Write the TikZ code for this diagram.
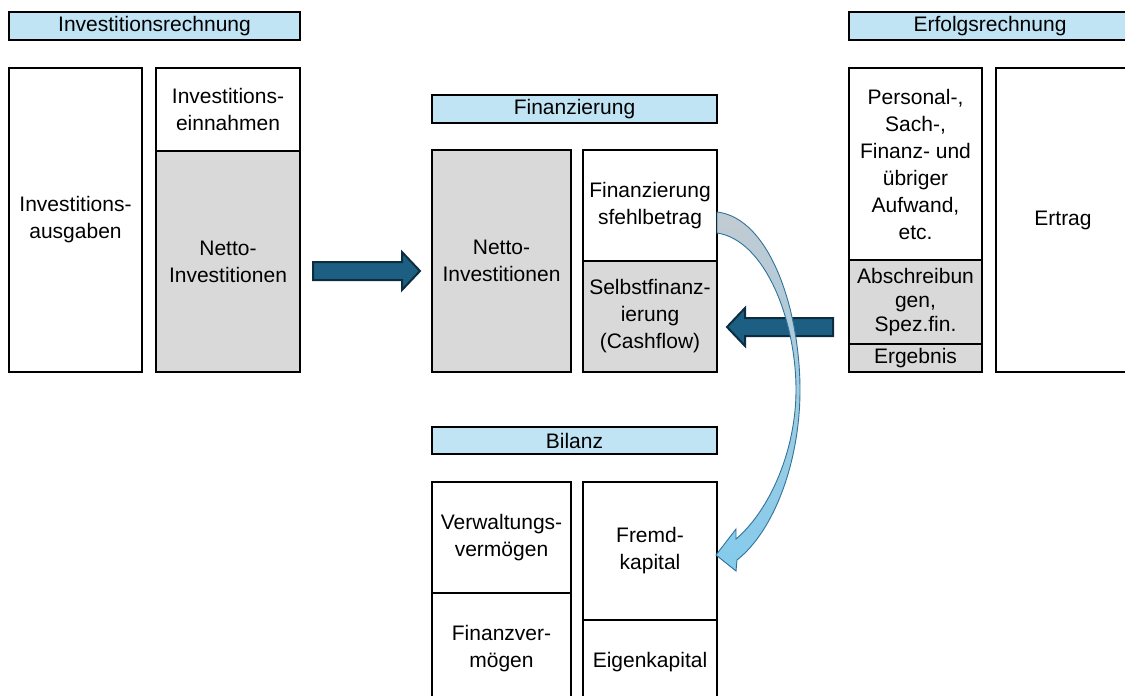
\documentclass[tikz,border=0pt]{standalone}
\usepackage{fontspec}
\setmainfont{Liberation Sans}
\usetikzlibrary{calc}
\definecolor{hdrblue}{HTML}{C1E4F5}
\definecolor{boxgray}{HTML}{D9D9D9}
\definecolor{arrfill}{HTML}{1D5F82}
\definecolor{arrdraw}{HTML}{0C2D40}
\definecolor{curtop}{HTML}{C2CBD2}
\definecolor{curmid}{HTML}{A6CFE3}
\definecolor{curbot}{HTML}{84CBEC}
\definecolor{curline}{HTML}{2F739C}
\tikzset{
  bx/.style={draw=black, line width=1.6pt, inner sep=0pt, outer sep=0pt, anchor=north west,
    align=center, font=\fontsize{21}{27}\selectfont},
  grayfill/.style={fill=boxgray},
  hdr/.style={bx, fill=hdrblue},
  darrow/.style={fill=arrfill, draw=arrdraw, line width=2pt, line join=miter},
  curarrow/.style={top color=curtop, middle color=curmid, bottom color=curbot, draw=curline, line width=0.9pt}
}
\begin{document}
\begin{tikzpicture}[x=1pt,y=-1pt]
\useasboundingbox (0,0) rectangle (1125,696);
\clip (0,0) rectangle (1125,696);
% Investitionsrechnung
\node[hdr, minimum width=291pt, minimum height=28pt] (h1) at (9,12) {Investitionsrechnung};
\node[bx, minimum width=133pt, minimum height=304pt] (ia) at (9,68) {Investitions-\\ausgaben};
\node[bx, minimum width=144pt, minimum height=83pt] (ie) at (156,68) {Investitions-\\einnahmen};
\node[bx, grayfill, minimum width=144pt, minimum height=221pt] (ni1) at (156,151) {Netto-\\Investitionen};
% Finanzierung
\node[hdr, minimum width=285pt, minimum height=28pt] (h2) at (432,95) {Finanzierung};
\node[bx, grayfill, minimum width=139pt, minimum height=222pt] (ni2) at (432,150) {Netto-\\Investitionen};
\node[bx, minimum width=134pt, minimum height=111pt] (ffb) at (583,150) {Finanzierung\\sfehlbetrag};
\node[bx, grayfill, minimum width=134pt, minimum height=111pt] (sf) at (583,261) {Selbstfinanz-\\ierung\\(Cashflow)};
% Erfolgsrechnung
\node[hdr, minimum width=282pt, minimum height=28pt] (h3) at (849,12) {Erfolgsrechnung};
\node[bx, minimum width=133pt, minimum height=192pt] (pa) at (849,68) {Personal-,\\Sach-,\\Finanz- und\\übriger\\Aufwand,\\etc.};
\node[bx, grayfill, minimum width=133pt, minimum height=84pt, font=\fontsize{21}{24}\selectfont] (ab) at (849,260) {Abschreibun\\gen,\\Spez.fin.};
\node[bx, grayfill, minimum width=133pt, minimum height=28pt] (erg) at (849,344) {Ergebnis};
\node[bx, minimum width=134pt, minimum height=304pt] (ert) at (996,68) {Ertrag};
% Bilanz
\node[hdr, minimum width=285pt, minimum height=27pt] (h4) at (432,427) {Bilanz};
\node[bx, minimum width=139pt, minimum height=111pt] (vv) at (432,482) {Verwaltungs-\\vermögen};
\node[bx, minimum width=139pt, minimum height=112pt] (fv) at (432,593) {Finanzver-\\mögen};
\node[bx, minimum width=134pt, minimum height=138pt] (fk) at (583,482) {Fremd-\\kapital};
\node[bx, minimum width=134pt, minimum height=85pt] (ek) at (583,620) {Eigenkapital};
% block arrows
\coordinate (t1) at ($(ni2.west)+(-12,10)$);
\draw[darrow] (t1) -- ++(-18,-19) -- ++(0,10) -- ++(-89,0) -- ++(0,18) -- ++(89,0) -- ++(0,10) -- cycle;
\coordinate (t2) at ($(sf.east)+(10,10.5)$);
\draw[darrow] (t2) -- ++(18,-19) -- ++(0,10) -- ++(88,0) -- ++(0,18) -- ++(-88,0) -- ++(0,10) -- cycle;
% curved arrow
\coordinate (cs) at ($(ffb.east)+(0,6.5)$);
\coordinate (ct) at ($(fk.east)+(-1,4)$);
\shadedraw[curarrow] (cs) .. controls (770,218) and (800,310) .. (800,390)
  .. controls (800,460) and (775,530) .. (737,560) -- (736,571) -- (ct) -- (736,529) -- (736,539)
  .. controls (770,510) and (796,450) .. (796,390)
  .. controls (796,320) and (765,240) .. (717,233) -- cycle;
\end{tikzpicture}
\end{document}
